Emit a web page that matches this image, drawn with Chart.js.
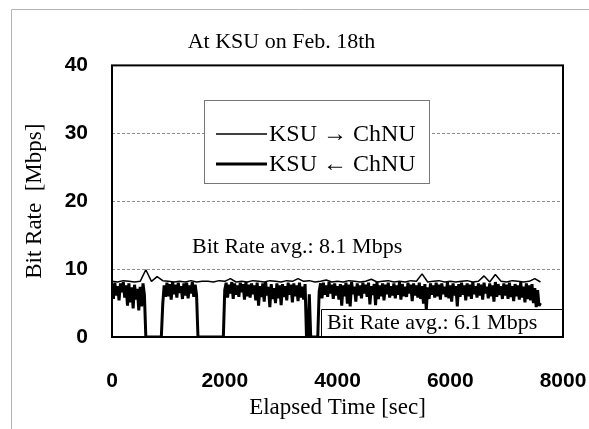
<!DOCTYPE html>
<html>
<head>
<meta charset="utf-8">
<script src="https://cdn.jsdelivr.net/npm/chart.js@4.4.1/dist/chart.umd.min.js"></script>
<style>
  html, body { margin: 0; padding: 0; background: #fff; }
  #wrap { width: 589px; height: 429px; }
</style>
</head>
<body>
<div id="wrap"><canvas id="rateChart"></canvas></div>
<script>
// Sampling interval of each trace, in seconds
var stepUp = 100;   // KSU -> ChNU
var stepDown = 25;  // KSU <- ChNU

var labelUp = 'KSU \u2192 ChNU';
var labelDown = 'KSU \u2190 ChNU';

// KSU -> ChNU bit rate [Mbps], one value every 100 s from 0 s
var rateUp = [
  8.2, 8.1, 8.3, 8.2, 8.1, 8.2, 9.9, 8.2, 8.9, 8.3,
  8.2, 8.1, 8.2, 8.1, 8.3, 8.1, 8.2, 8.2, 8.1, 8.3,
  8.2, 8.6, 8.1, 8.2, 8.1, 8.3, 8.2, 8.1, 8.3, 8.2,
  8.1, 8.3, 8.2, 8.6, 8.2, 8.3, 8.1, 8.2, 8.4, 8.1,
  8.2, 8.1, 8.3, 8.2, 8.1, 8.2, 8.5, 8.1, 8.2, 8.3,
  8.1, 8.2, 8.1, 8.3, 8.2, 9.3, 8.1, 8.2, 8.3, 8.1,
  8.2, 8.1, 8.2, 8.3, 8.1, 8.2, 9.0, 8.1, 9.2, 8.2,
  8.1, 8.3, 8.2, 8.1, 8.2, 8.6, 8.1
];

// KSU <- ChNU bit rate [Mbps], one value every 25 s from 0 s (20 per row)
var rateDown = [
  7.8, 5.6, 8.0, 6.1, 7.5, 5.4, 7.9, 6.6, 8.1, 5.8, 7.6, 4.6, 7.9, 5.1, 7.3, 4.2, 7.7, 5.5, 7.1, 3.9,
  7.4, 4.5, 7.9, 6.2, 0, 0, 0, 0, 0, 0, 0, 0, 0, 0, 0, 0, 4.8, 7.6, 5.9, 8.0,
  6.0, 7.8, 5.5, 8.1, 6.3, 7.7, 5.8, 8.0, 6.5, 7.5, 5.6, 7.9, 6.1, 8.0, 5.7, 7.6, 6.4, 8.1, 5.9, 7.7,
  6.2, 0, 0, 0, 0, 0, 0, 0, 0, 0, 0, 0, 0, 0, 0, 0, 0, 0, 0, 0,
  6.9, 8.0, 5.8, 7.7, 6.4, 8.1, 5.6, 7.9, 6.2, 7.6, 5.9, 8.0, 6.6, 7.8, 5.5, 8.1, 6.0, 7.7, 5.8, 7.9,
  6.3, 7.6, 5.4, 8.0, 4.6, 7.5, 5.9, 7.9, 5.2, 8.1, 6.1, 7.4, 4.4, 7.8, 5.6, 7.2, 5.0, 7.9, 5.7, 7.6,
  4.7, 7.8, 5.9, 7.5, 5.4, 8.0, 6.2, 7.7, 5.1, 7.9, 6.0, 7.6, 5.3, 8.0, 5.8, 7.4, 5.5, 7.8, 0, 0,
  6.3, 0, 0, 0, 0, 0, 0, 6.7, 7.9, 5.7, 8.0, 6.2, 7.6, 5.9, 8.1, 6.4, 7.7, 5.6, 7.9, 6.1,
  7.5, 5.5, 7.8, 4.6, 7.6, 6.0, 8.0, 4.9, 7.7, 4.5, 8.1, 6.3, 7.4, 5.2, 7.9, 6.1, 7.6, 5.7, 8.0, 6.4,
  7.7, 5.9, 8.0, 4.8, 7.5, 6.2, 7.8, 4.7, 8.1, 5.6, 7.6, 6.0, 7.9, 5.4, 7.7, 6.3, 8.0, 5.8, 7.5, 6.1,
  7.9, 5.7, 7.6, 6.2, 8.1, 5.5, 7.8, 6.0, 7.4, 5.9, 8.0, 6.4, 7.7, 5.3, 7.9, 6.1, 7.6, 5.8, 8.0, 5.6,
  7.5, 4.9, 7.8, 4.0, 7.3, 5.6, 7.9, 6.2, 7.6, 5.8, 8.0, 6.0, 7.7, 5.5, 7.9, 6.3, 7.4, 5.9, 8.1, 5.7,
  7.6, 5.2, 7.9, 6.1, 7.5, 4.5, 7.8, 5.9, 8.0, 6.2, 7.6, 5.4, 7.9, 6.0, 7.7, 5.6, 8.1, 6.3, 7.5, 5.8,
  7.9, 6.1, 7.7, 5.5, 8.0, 6.4, 7.4, 5.7, 7.9, 6.0, 7.6, 5.2, 8.1, 5.9, 7.8, 6.2, 7.5, 5.6, 7.9, 6.1,
  7.7, 5.6, 8.0, 5.9, 7.5, 5.3, 7.8, 6.0, 7.6, 5.5, 8.1, 5.8, 7.4, 5.1, 7.9, 5.6, 7.6, 5.4, 7.8, 5.0,
  7.2, 4.4, 6.9, 4.6, 5.0
];

var xTicks = [0, 2000, 4000, 6000, 8000];
var yTicks = [0, 10, 20, 30, 40];
var avgUpText = 'Bit Rate avg.: 8.1 Mbps';
var avgDownText = 'Bit Rate avg.: 6.1 Mbps';

function toPoints(values, step) {
  return values.map(function(v, i) { return { x: i * step, y: v }; });
}

var serif = "'Liberation Serif', 'Times New Roman', serif";
var sans = "'Liberation Sans', Arial, sans-serif";

// Legend box, average notes and the black frame round the plot
var paperPlugin = {
  id: 'paper',
  beforeDraw: function(chart) {
    var ctx = chart.ctx;
    ctx.save();
    ctx.strokeStyle = '#b4b4b4';
    ctx.lineWidth = 1;
    ctx.beginPath();
    ctx.moveTo(11.5, 429);
    ctx.lineTo(11.5, 9.5);
    ctx.lineTo(589, 9.5);
    ctx.stroke();
    ctx.restore();
  },
  afterDatasetsDraw: function(chart) {
    var ctx = chart.ctx;
    var a = chart.chartArea;
    var sets = chart.data.datasets;
    ctx.save();

    // note for the upper trace
    ctx.fillStyle = '#000';
    ctx.font = '22px ' + serif;
    ctx.textAlign = 'left';
    ctx.textBaseline = 'middle';
    ctx.fillText(avgUpText, 192, 247);

    // note for the lower trace, in its own white box
    ctx.fillStyle = '#fff';
    ctx.fillRect(321, 309, a.right - 321, a.bottom - 309);
    ctx.strokeStyle = '#000';
    ctx.lineWidth = 1;
    ctx.beginPath();
    ctx.moveTo(321.5, a.bottom);
    ctx.lineTo(321.5, 309.5);
    ctx.lineTo(a.right, 309.5);
    ctx.stroke();
    ctx.fillStyle = '#000';
    ctx.fillText(avgDownText, 327, 323);

    // legend
    ctx.fillStyle = '#fff';
    ctx.fillRect(204, 100, 225, 83);
    ctx.strokeStyle = '#777';
    ctx.lineWidth = 1;
    ctx.strokeRect(204.5, 100.5, 225, 83);
    ctx.font = '24px ' + serif;
    [134, 164].forEach(function(ly, i) {
      ctx.strokeStyle = sets[i].borderColor;
      ctx.lineWidth = sets[i].borderWidth;
      ctx.beginPath();
      ctx.moveTo(216, ly);
      ctx.lineTo(267, ly);
      ctx.stroke();
      ctx.fillStyle = '#000';
      ctx.fillText(sets[i].label, 269, ly + 1);
    });

    // frame
    ctx.strokeStyle = '#000';
    ctx.lineWidth = 2;
    ctx.strokeRect(a.left, a.top, a.right - a.left, a.bottom - a.top);
    ctx.restore();
  }
};

Chart.defaults.color = '#000';

var ctx = document.getElementById('rateChart').getContext('2d');
var rateChart = new Chart(ctx, {
  type: 'line',
  data: {
    datasets: [{
      label: labelUp,
      data: toPoints(rateUp, stepUp),
      borderColor: '#000',
      borderWidth: 1.5,
      pointRadius: 0,
      borderJoinStyle: 'bevel'
    }, {
      label: labelDown,
      data: toPoints(rateDown, stepDown),
      borderColor: '#000',
      borderWidth: 3,
      pointRadius: 0,
      borderJoinStyle: 'bevel'
    }]
  },
  options: {
    responsive: true,
    maintainAspectRatio: false,
    animation: false,
    layout: { padding: { left: 0, right: 26, top: 0, bottom: 0 } },
    scales: {
      x: {
        type: 'linear',
        min: 0,
        max: 8000,
        afterBuildTicks: function(s) { s.ticks = xTicks.map(function(v) { return { value: v }; }); },
        afterFit: function(s) { s.height = 92; s.paddingLeft = 0; s.paddingRight = 0; },
        grid: { display: false },
        border: { display: false },
        ticks: {
          padding: 24,
          maxRotation: 0,
          font: { family: sans, size: 21, weight: 'bold' },
          color: '#000',
          callback: function(v) { return String(v); }
        },
        title: {
          display: true,
          text: 'Elapsed Time [sec]',
          font: { family: serif, size: 23 },
          padding: { top: 0, bottom: 7 },
          color: '#000'
        }
      },
      y: {
        min: 0,
        max: 40,
        afterBuildTicks: function(s) { s.ticks = yTicks.map(function(v) { return { value: v }; }); },
        afterFit: function(s) { s.width = 112; s.paddingTop = 0; s.paddingBottom = 0; },
        grid: {
          drawTicks: false,
          lineWidth: 1,
          borderDash: [3, 2],
          color: function(c) {
            return (c.tick && c.tick.value > 0 && c.tick.value < 40) ? '#8c8c8c' : 'rgba(0,0,0,0)';
          }
        },
        border: { display: false, dash: [3, 2] },
        ticks: {
          padding: 24,
          font: { family: sans, size: 21, weight: 'bold' },
          color: '#000'
        },
        title: {
          display: true,
          text: 'Bit Rate  [Mbps]',
          font: { family: serif, size: 23 },
          padding: { top: 21, bottom: 0 },
          color: '#000'
        }
      }
    },
    plugins: {
      legend: { display: false },
      tooltip: { enabled: false },
      title: {
        display: true,
        text: 'At KSU on Feb. 18th',
        font: { family: serif, size: 22, weight: 'normal' },
        padding: { top: 29, bottom: 10 },
        color: '#000'
      }
    }
  },
  plugins: [paperPlugin]
});
</script>
</body>
</html>
